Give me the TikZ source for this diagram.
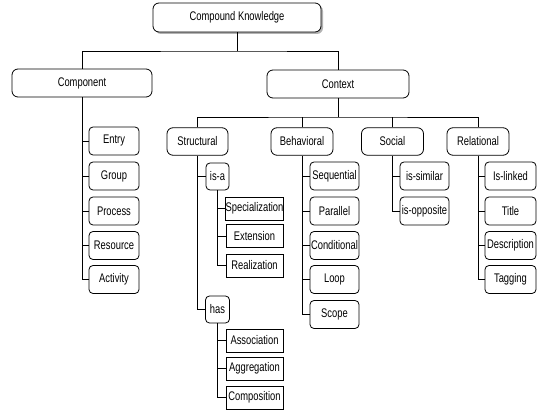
\documentclass[tikz,border=0pt]{standalone}
\usepackage{fontspec}
\setmainfont{Liberation Sans}[FakeStretch=0.75]
\usetikzlibrary{shadows}
\begin{document}
\begin{tikzpicture}[x=1pt,y=-1pt,
  every node/.style={font=\fontsize{12.5}{13}\selectfont, inner sep=0pt, align=center},
  bigbox/.style={draw, fill=white, line width=0.8pt, rounded corners=6pt, minimum height=28pt},
  kidbox/.style={draw, fill=white, line width=0.8pt, rounded corners=4pt, minimum height=28pt},
  flatbox/.style={draw, fill=white, line width=0.8pt, minimum width=57pt, minimum height=23pt},
  link/.style={line width=0.6pt}]
\useasboundingbox (0,0) rectangle (542,411);
% top level
\node[bigbox, minimum width=168pt, minimum height=29pt,
  drop shadow={shadow xshift=2pt, shadow yshift=-2pt, fill=gray!60, opacity=1}] (top) at (237,17.5) {Compound Knowledge};
\node[bigbox, minimum width=140pt] (comp) at (82,83) {Component};
\node[bigbox, minimum width=142pt] (ctx) at (338,84) {Context};
% context children
\node[bigbox, minimum width=61pt, minimum height=27.5pt] (struct) at (197.5,141.5) {Structural};
\node[bigbox, minimum width=62pt, minimum height=27.5pt] (behav) at (302,141.5) {Behavioral};
\node[bigbox, minimum width=62pt, minimum height=27.5pt] (social) at (392.5,141.5) {Social};
\node[bigbox, minimum width=62pt, minimum height=27.5pt] (rel) at (478,141.5) {Relational};
% component children
\node[kidbox, minimum width=50pt] (entry) at (114,141) {Entry};
\node[kidbox, minimum width=50pt] (group) at (114,176) {Group};
\node[kidbox, minimum width=50pt] (process) at (114,211) {Process};
\node[kidbox, minimum width=50pt] (resource) at (114,245.5) {Resource};
\node[kidbox, minimum width=50pt] (activity) at (114,279.5) {Activity};
% behavioral children
\node[kidbox, minimum width=49pt] (seq) at (334.5,176) {Sequential};
\node[kidbox, minimum width=49pt] (par) at (334.5,211) {Parallel};
\node[kidbox, minimum width=49pt] (cond) at (334.5,245.5) {Conditional};
\node[kidbox, minimum width=49pt] (loop) at (334.5,279.5) {Loop};
\node[kidbox, minimum width=49pt] (scope) at (334.5,314.5) {Scope};
% social children
\node[kidbox, minimum width=49pt] (sim) at (424.5,176) {is-similar};
\node[kidbox, minimum width=49pt] (opp) at (424.5,211) {is-opposite};
% relational children
\node[kidbox, minimum width=51pt] (linked) at (510.5,176) {Is-linked};
\node[kidbox, minimum width=51pt] (title) at (510.5,211) {Title};
\node[kidbox, minimum width=51pt] (desc) at (510.5,245.5) {Description};
\node[kidbox, minimum width=51pt] (tag) at (510.5,279.5) {Tagging};
% structural children
\node[kidbox, minimum width=23pt, minimum height=27pt] (isa) at (217.5,176.5) {is-a};
\node[kidbox, minimum width=24pt, minimum height=27pt] (has) at (217.5,309.5) {has};
\node[flatbox] (spec) at (254.5,208.5) {Specialization};
\node[flatbox] (ext) at (254.5,236) {Extension};
\node[flatbox] (real) at (254.5,265.5) {Realization};
\node[flatbox] (assoc) at (254.5,340.5) {Association};
\node[flatbox] (aggr) at (254.5,368.5) {Aggregation};
\node[flatbox] (compo) at (254.5,397.5) {Composition};
% junctions
\coordinate (j1) at (237,51);
\coordinate (j2) at (338,117);
% connectors
\draw[link] (top.south) -- (j1);
\draw[link] (comp.north) |- (j1) -| (ctx.north);
\draw[link] (ctx.south) -- (j2);
\draw[link] (struct.north) |- (j2) -| (rel.north);
\draw[link] (behav.north) -- (behav.north |- j2);
\draw[link] (social.north) -- (social.north |- j2);
% component
\draw[link] (comp.south) |- (activity.west);
\foreach \n in {entry,group,process,resource}
  \draw[link] (\n.west) -- (\n.west -| comp.south);
% behavioral
\draw[link] (behav.south) |- (scope.west);
\foreach \n in {seq,par,cond,loop}
  \draw[link] (\n.west) -- (\n.west -| behav.south);
% social
\draw[link] (social.south) |- (opp.west);
\draw[link] (sim.west) -- (sim.west -| social.south);
% relational
\draw[link] (rel.south) |- (tag.west);
\foreach \n in {linked,title,desc}
  \draw[link] (\n.west) -- (\n.west -| rel.south);
% structural
\draw[link] (struct.south) |- (has.west);
\draw[link] (isa.west) -- (isa.west -| struct.south);
\draw[link] (isa.south) |- (real.west);
\foreach \n in {spec,ext}
  \draw[link] (\n.west) -- (\n.west -| isa.south);
\draw[link] (has.south) |- (compo.west);
\foreach \n in {assoc,aggr}
  \draw[link] (\n.west) -- (\n.west -| has.south);
\end{tikzpicture}
\end{document}
